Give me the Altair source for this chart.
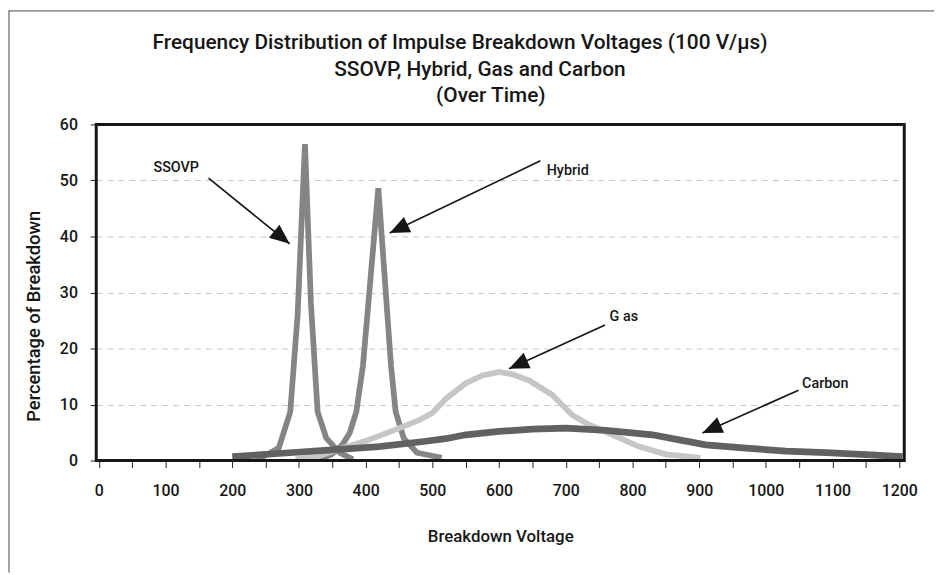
import math
import altair as alt
import pandas as pd

# ---------------- data ----------------
ssovp_v = [235, 255, 270, 287, 298, 309, 318, 328, 341, 361, 381]
ssovp_p = [0.2, 1.2, 2.3, 8.7, 26.0, 56.5, 28.0, 8.7, 4.0, 1.4, 0.2]

hybrid_v = [330, 349, 365, 376, 386, 396, 419, 438, 445, 457, 477, 514]
hybrid_p = [0.3, 1.1, 2.8, 4.9, 8.7, 17.0, 48.6, 17.0, 8.7, 4.0, 1.4, 0.5]

gas_v = [295, 330, 360, 400, 440, 480, 500, 520, 550, 575, 600, 620, 645, 680, 710, 735, 770, 810, 850, 902]
gas_p = [0.2, 0.8, 2.0, 3.5, 5.3, 7.2, 8.5, 11.0, 13.8, 15.2, 15.8, 15.4, 14.3, 11.7, 8.1, 6.4, 4.6, 2.5, 1.1, 0.5]

carbon_v = [200, 275, 350, 420, 487, 520, 550, 600, 650, 700, 760, 830, 870, 910, 970, 1030, 1090, 1150, 1205]
carbon_p = [0.7, 1.3, 1.9, 2.5, 3.4, 3.9, 4.6, 5.2, 5.6, 5.8, 5.4, 4.6, 3.7, 2.8, 2.2, 1.7, 1.4, 1.05, 0.7]

series_names = ["SSOVP", "Hybrid", "Gas", "Carbon"]
series_colors = ["#858585", "#858585", "#c6c6c6", "#616161"]
series_widths = [5.8, 5.8, 5.8, 6.8]

ann_labels = ["SSOVP", "Hybrid", "G as", "Carbon"]
ann_label_v = [116, 703, 787, 1089]
ann_label_p = [52.2, 51.7, 25.6, 13.7]
ann_from_v = [164.5, 662, 759, 1049]
ann_from_p = [50.4, 53.5, 24.2, 12.55]
ann_to_v = [286, 436, 615, 905]
ann_to_p = [38.7, 40.6, 16.4, 4.9]

x_ticks = list(range(0, 1201, 50))
y_ticks = [0, 10, 20, 30, 40, 50, 60]

title_lines = [
    "Frequency Distribution of Impulse Breakdown Voltages (100 V/\u03bcs)",
    "SSOVP, Hybrid, Gas and Carbon",
    "(Over Time)",
]

# ---------------- layout ----------------
W, H = 815, 339
X_DOM = [-3.9, 1207.5]
Y_DOM = [0, 60]
KX = W / (X_DOM[1] - X_DOM[0])
KY = H / (Y_DOM[1] - Y_DOM[0])
PAD = {"left": 89, "top": 115, "right": 30, "bottom": 113}
# title line placement (pixels relative to the plot area's top-left corner)
TITLE_X = [367, 387, 398]
TITLE_Y = [-76.5, -48.5, -22.5]

FONT = "Roboto, Liberation Sans, Arial, sans-serif"
WEIGHT = 500
INK = "#161616"

x_scale = alt.Scale(domain=X_DOM, nice=False, zero=False)
y_scale = alt.Scale(domain=Y_DOM, nice=False)

x_axis = alt.Axis(
    values=x_ticks, format="d",
    labelExpr="datum.value % 100 === 0 ? datum.label : ''",
    grid=False, domain=False, ticks=True, tickSize=7, tickColor="#222", tickWidth=1,
    labelFont=FONT, labelFontSize=16, labelFontWeight=WEIGHT, labelColor=INK, labelPadding=15,
    labelFlush=False, labelOverlap=False,
    titleFont=FONT, titleFontSize=17, titleFontWeight=WEIGHT, titleColor=INK,
    titleY=77, titleBaseline="middle",
)
y_axis = alt.Axis(
    values=y_ticks, format="d",
    grid=True, gridDash=[6, 5], gridColor="#c8c8c8", gridWidth=1,
    domain=False, ticks=True, tickSize=6, tickColor="#222", tickWidth=1,
    labelFont=FONT, labelFontSize=16, labelFontWeight=WEIGHT, labelColor=INK, labelPadding=13,
    titleFont=FONT, titleFontSize=18.5, titleFontWeight=WEIGHT, titleColor=INK,
    titleAngle=270, titleX=-63, titleY=193, titleBaseline="middle", titleAlign="center",
)


def X(field):
    return alt.X(f"{field}:Q", scale=x_scale, axis=x_axis, title="Breakdown Voltage")


def Y(field):
    return alt.Y(f"{field}:Q", scale=y_scale, axis=y_axis, title="Percentage of Breakdown")


layers = []

# series lines (drawn in series order so Carbon is on top)
series_data = [(ssovp_v, ssovp_p), (hybrid_v, hybrid_p), (gas_v, gas_p), (carbon_v, carbon_p)]
for name, (vs, ps), col, sw in zip(series_names, series_data, series_colors, series_widths):
    df = pd.DataFrame({"v": vs, "p": ps, "series": name})
    layers.append(
        alt.Chart(df).mark_line(color=col, strokeWidth=sw, clip=True, strokeJoin="miter")
        .encode(x=X("v"), y=Y("p"), detail="series:N")
    )

# annotations
angles = []
for v0, p0, v1, p1 in zip(ann_from_v, ann_from_p, ann_to_v, ann_to_p):
    dxs = (v1 - v0) * KX
    dys = -(p1 - p0) * KY
    angles.append(math.degrees(math.atan2(dxs, -dys)) % 360)

ann = pd.DataFrame({
    "label": ann_labels, "lv": ann_label_v, "lp": ann_label_p,
    "v0": ann_from_v, "p0": ann_from_p, "v1": ann_to_v, "p1": ann_to_p,
    "ang": angles,
})

layers.append(
    alt.Chart(ann).mark_rule(color=INK, strokeWidth=1.7)
    .encode(x=X("v0"), y=Y("p0"), x2="v1:Q", y2="p1:Q")
)
layers.append(
    alt.Chart(ann).mark_point(shape="M0,0L-0.85,2L0.85,2Z", size=400, filled=True,
                              color=INK, opacity=1, strokeWidth=0)
    .encode(x=X("v1"), y=Y("p1"), angle=alt.Angle("ang:Q", scale=None))
)
layers.append(
    alt.Chart(ann).mark_text(font=FONT, fontSize=14.5, fontWeight=WEIGHT, color=INK,
                             align="center", baseline="middle")
    .encode(x=X("lv"), y=Y("lp"), text="label:N")
)

# plot frame and outer figure border
one = pd.DataFrame({"k": [0]})
layers.append(
    alt.Chart(one).mark_rect(fillOpacity=0, stroke=INK, strokeWidth=3)
    .encode(x=alt.value(0), x2=alt.value(W), y=alt.value(0), y2=alt.value(H))
)
layers.append(
    alt.Chart(one).mark_rule(color="#444", strokeWidth=1)
    .encode(x=alt.value(-88), y=alt.value(-PAD["top"]), y2=alt.value(H + PAD["bottom"]))
)
layers.append(
    alt.Chart(one).mark_rule(color="#444", strokeWidth=1)
    .encode(x=alt.value(-88), x2=alt.value(W + PAD["right"]), y=alt.value(-PAD["top"] + 0.5))
)

# chart title, three centred lines
for line, tx, ty in zip(title_lines, TITLE_X, TITLE_Y):
    layers.append(
        alt.Chart(one).mark_text(text=line, font=FONT, fontSize=21, fontWeight=WEIGHT, color=INK,
                                 align="center", baseline="alphabetic")
        .encode(x=alt.value(tx), y=alt.value(ty))
    )

chart = (
    alt.layer(*layers)
    .properties(
        width=W, height=H,
        autosize=alt.AutoSizeParams(type="none"),
        padding=PAD,
    )
    .configure_view(stroke=None)
)

chart.save("out.html", embed_options={"renderer": "svg", "actions": False})
